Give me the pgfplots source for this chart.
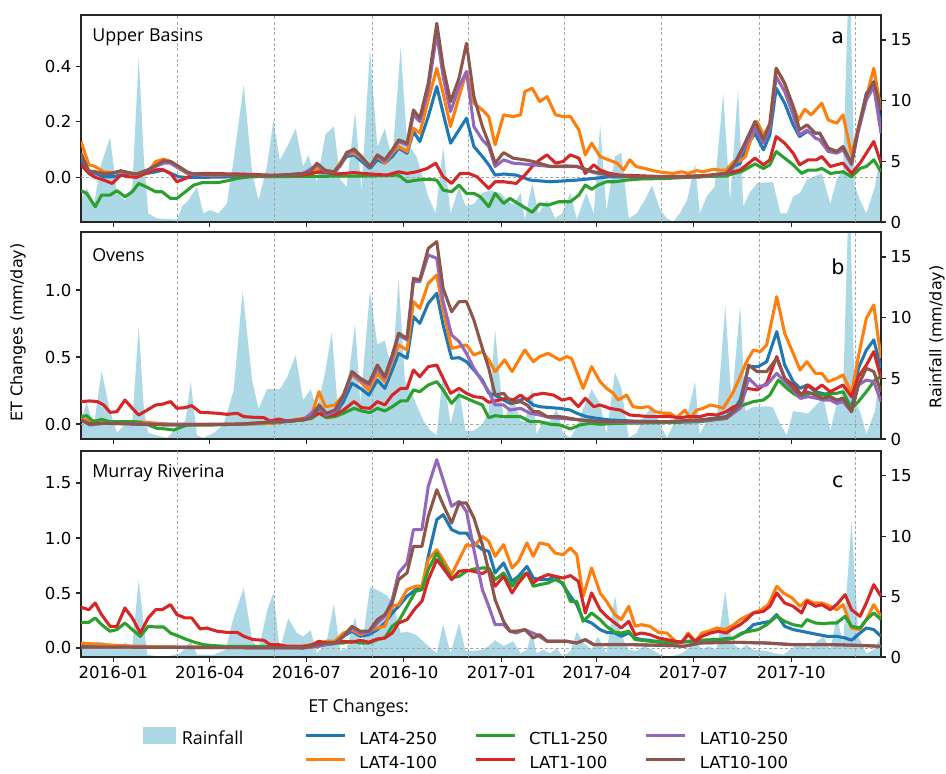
\documentclass[border=0pt]{standalone}
\usepackage{fontspec}
\setmainfont{DejaVu Sans}
\newfontfamily\opensans{Open Sans}
\usepackage{pgfplots}
\pgfplotsset{compat=1.18}

\definecolor{tabblue}{HTML}{1F77B4}
\definecolor{taborange}{HTML}{FF7F0E}
\definecolor{tabgreen}{HTML}{2CA02C}
\definecolor{tabred}{HTML}{D62728}
\definecolor{tabpurple}{HTML}{9467BD}
\definecolor{tabbrown}{HTML}{8C564B}
\definecolor{rain}{HTML}{ADD8E6}

\newcommand{\tickfont}{\fontsize{12.4}{14}\selectfont}
\newcommand{\titlefont}{\opensans\fontsize{13.4}{16}\selectfont}
\newcommand{\letterfont}{\fontsize{15.5}{18}\selectfont}

% x axis: days since 2016-01-01
\pgfplotsset{
  base/.style={scale only axis, width=600pt, xmin=-30.4, xmax=723.8, anchor=south west,
    tick align=outside, major tick length=3.75pt,
    every tick/.style={black!85, line width=0.8pt},
    tick label style={font=\tickfont},
    axis line style={black!85, line width=0.9pt},
    /pgf/number format/assume math mode=true},
  rainax/.style={base, hide x axis, axis y line*=right, ymin=0, ymax=17.06, ytick={0,5,10,15}},
  etax/.style={base, ytick pos=left, xtick pos=bottom,
    xtick={0,91,182,274,366,456,547,639}, xticklabels={},
    extra x ticks={60,152,244,335,425,517,609,700}, extra x tick labels={},
    extra x tick style={grid=major, major tick length=0pt},
    extra y ticks={0}, extra y tick labels={},
    extra y tick style={grid=major, major tick length=0pt},
    major grid style={black!35, line width=0.5pt, dash pattern=on 2.2pt off 1.8pt},
    yticklabel style={/pgf/number format/.cd, fixed, fixed zerofill, precision=1},
    every axis plot/.append style={line width=2.3pt, line join=round}},
}

\begin{document}
\begin{tikzpicture}
\path[use as bounding box] (0pt,0pt) rectangle (709.5pt,580.5pt);

%% ---------------- Upper Basins ----------------
\begin{axis}[rainax, at={(60.75pt,414pt)}, height=155.25pt]
\addplot[fill=rain, draw=none] coordinates {(-30.4,1.8) (-25,2.8) (-18.5,1.3) (-12,4.6) (-3,7.0) (3.5,2.4) (11,1.8) (18,2.9) (24,13.6) (29,5.1) (33,0.7) (41,0.3) (60,0.2) (65,1.3) (71,1.8) (79,2.9) (85,0.7) (91.5,1.0) (99,0.7) (107,1.5) (113.5,5.1) (123,11.3) (131,4.0) (137,1.8) (145,4.6) (151,8.4) (157,5.1) (164,6.2) (172,7.7) (179,4.6) (184,5.5) (192,3.3) (200,7.2) (208,7.9) (214,3.5) (220,2.9) (228,9.1) (234,2.6) (242,14.2) (249,6.2) (256,7.7) (263,5.1) (271,14.4) (277,6.5) (286,5.4) (297,2.1) (304,0.7) (311,6.2) (318,0.7) (326,2.9) (332,1.3) (340,1.5) (348,2.4) (355,2.6) (365,2.4) (371,1.8) (377,1.4) (384,2.4) (388,0.2) (395,3.2) (401,0.7) (409,1.8) (416.5,0.3) (423,0.7) (431,2.4) (437,0.2) (446,2.4) (453,0.7) (459,8.0) (465,0.9) (473,5.4) (479,5.7) (486,0.3) (493.5,0.7) (501,1.8) (508,3.0) (515.5,1.0) (522,0.3) (528,0.0) (534,0.7) (541,1.8) (548.5,4.8) (553,0.7) (559.5,2.1) (567,2.9) (575,10.6) (581.5,1.8) (589,10.9) (594,1.3) (600,2.4) (607,3.2) (622,3.3) (629,0.7) (635,0.7) (641,2.1) (647.5,2.4) (654,3.5) (668,4.0) (676,1.5) (682,3.5) (688,4.3) (694,22) (699,3.0) (704,1.8) (710,0.7) (718,2.9) (723.8,5.9)} \closedcycle;
\end{axis}
\begin{axis}[etax, at={(60.75pt,414pt)}, height=155.25pt, ymin=-0.162, ymax=0.584, ytick={0,0.2,0.4}]
\addplot[tabblue] coordinates {(-30.4,0.062) (-25,0.025) (-17,0.013) (-9,0.001) (-1,0.001) (7,0.007) (14.5,0.013) (22,0.007) (32,0.013) (40,0.019) (47.5,0.025) (54,0.013) (62,0.001) (69.5,-0.002) (117,0.001) (148,0.004) (179,0.007) (192,0.019) (208,0.013) (220,0.074) (227,0.080) (242,0.031) (249,0.062) (256,0.050) (263,0.074) (269,0.104) (277,0.086) (283,0.164) (289,0.128) (297,0.218) (305,0.326) (311,0.230) (318,0.122) (326,0.170) (333,0.212) (340,0.110) (348,0.074) (354,0.044) (360,0.007) (368,0.011) (380,0.007) (393,-0.011) (412,-0.017) (437,-0.011) (453,-0.005) (468,0.001) (522,0.001) (553,0.004) (578,0.007) (585,0.038) (591,0.050) (597,0.110) (605,0.158) (613,0.098) (619,0.152) (625,0.320) (633,0.266) (641,0.188) (647,0.146) (654,0.164) (662,0.158) (666,0.158) (674,0.104) (682,0.092) (688,0.104) (696,0.050) (702,0.164) (710,0.302) (717,0.332) (723.8,0.182)};
\addplot[taborange] coordinates {(-30.4,0.128) (-23,0.044) (-17,0.038) (-9,0.019) (-1,0.016) (7,0.019) (14.5,0.016) (22,0.007) (32,0.013) (40,0.056) (47.5,0.064) (54,0.056) (62,0.031) (69.5,0.013) (85,0.007) (117,0.005) (148,0.001) (179,0.013) (192,0.031) (208,0.019) (220,0.083) (227,0.086) (234,0.068) (242,0.038) (249,0.074) (256,0.050) (263,0.086) (269,0.110) (277,0.092) (283,0.176) (289,0.158) (297,0.278) (305,0.392) (311,0.302) (318,0.182) (326,0.290) (333,0.380) (340,0.266) (348,0.242) (354,0.218) (360,0.116) (368,0.224) (377,0.218) (384,0.224) (388,0.308) (395,0.320) (402,0.272) (409,0.290) (417,0.224) (424,0.218) (431,0.218) (439,0.170) (445,0.080) (451,0.122) (459,0.074) (467,0.062) (475,0.050) (481,0.025) (487,0.062) (493,0.038) (501,0.031) (509,0.023) (519,0.016) (528,0.013) (536,0.019) (542,0.013) (550,0.023) (556,0.019) (566,0.028) (572,0.025) (578,0.025) (585,0.056) (591,0.058) (596,0.074) (600,0.122) (607,0.200) (613,0.152) (619,0.188) (625,0.392) (632,0.344) (638,0.284) (646,0.206) (652,0.244) (658,0.224) (668,0.266) (674,0.206) (682,0.194) (688,0.224) (696,0.080) (702,0.170) (709,0.272) (717,0.392) (723.8,0.242)};
\addplot[tabgreen] coordinates {(-30.4,-0.049) (-25,-0.059) (-17,-0.107) (-11,-0.065) (-3,-0.065) (3.5,-0.049) (11,-0.071) (18,-0.053) (24,-0.023) (32,-0.037) (40,-0.053) (46,-0.053) (54,-0.077) (60,-0.077) (68,-0.053) (76,-0.029) (84,-0.020) (99,-0.020) (107,-0.014) (117,-0.005) (129,0.001) (242,0.004) (269,0.007) (277,-0.017) (286,-0.011) (296,-0.008) (305,-0.011) (311,-0.047) (319,-0.053) (326,-0.029) (333,-0.059) (340,-0.059) (346,-0.071) (354,-0.107) (360,-0.059) (368,-0.095) (374,-0.077) (384,-0.101) (395,-0.127) (402,-0.097) (410,-0.101) (420,-0.089) (431,-0.089) (439,-0.065) (445,-0.029) (451,-0.044) (457,-0.029) (465,-0.017) (473,-0.017) (484,-0.011) (497,-0.007) (522,-0.005) (553,0.001) (578,0.004) (585,0.013) (592,0.019) (605,0.047) (613,0.031) (619,0.044) (625,0.092) (633,0.068) (641,0.044) (649,0.013) (655,0.025) (663,0.025) (668,0.031) (676,0.013) (688,0.019) (696,0.001) (704,0.031) (710,0.038) (717,0.062) (723.8,0.019)};
\addplot[tabred] coordinates {(-30.4,0.044) (-23,0.013) (-17,-0.001) (-9,-0.011) (-1,-0.023) (7,0.007) (14.5,0.001) (22,-0.001) (30,0.013) (38,0.025) (46,0.028) (54,0.013) (60,-0.017) (68,-0.005) (76,0.011) (85,0.013) (117,0.011) (148,0.007) (179,0.007) (195,0.019) (211,0.011) (227,0.016) (242,0.011) (258,0.007) (269,0.019) (277,0.013) (286,0.019) (296,0.031) (304,0.050) (311,0.001) (319,-0.023) (327,0.013) (335,0.013) (343,0.001) (354,-0.041) (360,-0.017) (368,-0.017) (380,-0.023) (388,0.007) (395,0.038) (402,0.062) (409,0.080) (417,0.050) (424,0.056) (431,0.080) (439,0.068) (445,0.013) (453,0.044) (459,0.025) (468,0.013) (478,0.007) (522,0.001) (553,0.004) (578,0.013) (591,0.025) (605,0.068) (613,0.044) (619,0.062) (625,0.146) (633,0.122) (641,0.086) (647,0.044) (655,0.062) (663,0.062) (668,0.074) (676,0.038) (682,0.044) (688,0.050) (696,0.013) (704,0.050) (710,0.086) (717,0.128) (723.8,0.050)};
\addplot[tabpurple] coordinates {(-30.4,0.080) (-23,0.023) (-9,0.011) (7,0.019) (22,0.011) (32,0.023) (40,0.038) (47.5,0.050) (54,0.050) (62,0.031) (69.5,0.016) (76,0.008) (117,0.006) (148,0.004) (179,0.012) (192,0.044) (200,0.020) (208,0.018) (214,0.040) (220,0.083) (227,0.095) (234,0.071) (242,0.035) (249,0.076) (256,0.056) (263,0.092) (269,0.128) (277,0.116) (283,0.224) (289,0.200) (297,0.314) (305,0.518) (311,0.362) (318,0.236) (326,0.326) (333,0.380) (340,0.182) (348,0.134) (354,0.110) (360,0.038) (368,0.062) (377,0.050) (396,0.044) (412,0.038) (437,0.038) (453,0.016) (468,0.007) (490,0.001) (553,0.001) (578,0.011) (585,0.038) (594,0.098) (605,0.176) (613,0.122) (619,0.176) (625,0.362) (633,0.308) (641,0.224) (647,0.152) (654,0.170) (662,0.140) (666,0.134) (674,0.092) (682,0.086) (688,0.098) (696,0.044) (702,0.158) (710,0.278) (717,0.326) (723.8,0.158)};
\addplot[tabbrown] coordinates {(-30.4,0.086) (-23,0.019) (-17,0.019) (-9,0.013) (-1,0.013) (7,0.023) (14.5,0.016) (22,0.011) (32,0.025) (40,0.041) (47.5,0.059) (54,0.056) (62,0.038) (69.5,0.019) (76,0.011) (117,0.007) (148,0.004) (179,0.013) (186,0.019) (192,0.050) (200,0.023) (208,0.019) (214,0.044) (220,0.088) (227,0.101) (234,0.074) (242,0.038) (249,0.080) (256,0.062) (263,0.098) (269,0.134) (277,0.122) (283,0.242) (289,0.212) (297,0.338) (305,0.554) (311,0.398) (318,0.272) (326,0.356) (333,0.482) (340,0.290) (348,0.182) (354,0.122) (360,0.050) (368,0.088) (377,0.068) (388,0.062) (396,0.056) (412,0.038) (427,0.040) (437,0.038) (453,0.019) (468,0.007) (490,0.001) (553,0.001) (578,0.013) (585,0.044) (594,0.110) (605,0.200) (613,0.134) (619,0.194) (625,0.392) (633,0.338) (641,0.254) (647,0.170) (654,0.188) (662,0.158) (666,0.158) (674,0.104) (682,0.092) (688,0.110) (696,0.050) (702,0.170) (710,0.296) (717,0.344) (723.8,0.242)};
\node[anchor=west, inner sep=0pt, font=\titlefont] at (rel axis cs:0.0138,0.894) {Upper Basins};
\node[inner sep=0pt, font=\letterfont] at (rel axis cs:0.946,0.889) {a};
\end{axis}

%% ---------------- Ovens ----------------
\begin{axis}[rainax, at={(60.75pt,251.25pt)}, height=155.25pt]
\addplot[fill=rain, draw=none] coordinates {(-30.4,1.5) (-25,3.0) (-18.5,1.0) (-11,5.6) (-3,2.3) (3.5,0.5) (11,1.2) (18,1.5) (24,9.3) (29,2.3) (33,0.5) (41,0.3) (51,0.1) (60,1.0) (68,1.5) (73,4.7) (79,0.3) (85,0.1) (95,0.5) (104,1.2) (113.5,4.0) (122,12.2) (131,4.8) (137,2.5) (145,4.1) (157,4.1) (164,5.1) (172,6.9) (179,3.2) (186,4.1) (192,2.5) (200,5.6) (206,8.8) (212,2.3) (220,3.8) (228,9.5) (233,2.9) (242,12.2) (249,7.8) (256,8.1) (263,5.5) (269,13.2) (275,4.8) (283,3.4) (292.5,1.5) (299,0.7) (305,0.3) (311,5.6) (318,1.2) (326,4.2) (332,0.7) (340,0.7) (348,1.2) (354,2.3) (360,9.0) (368,1.5) (377,3.4) (384,1.5) (388,1.4) (395,4.2) (399,0.4) (405.5,1.5) (412,1.5) (418,2.5) (424,0.5) (431,0.1) (437,1.0) (443,2.5) (451,4.1) (459,2.9) (465,0.4) (473,5.5) (479,4.2) (486,0.1) (493.5,0.5) (500,1.8) (508,2.7) (515.5,1.2) (522,0.1) (528,1.2) (536,1.2) (542,2.3) (548.5,4.7) (553,0.4) (561,1.8) (569,1.8) (577,11.0) (583,2.9) (591,11.0) (596,2.3) (602,2.6) (616,2.7) (622,2.6) (629,1.2) (635,0.3) (641,2.3) (655,2.1) (669.5,3.4) (676,0.7) (682,2.9) (688,3.8) (694,22) (699,3.0) (704,2.3) (710,0.4) (718,2.3) (723.8,5.9)} \closedcycle;
\end{axis}
\begin{axis}[etax, at={(60.75pt,251.25pt)}, height=155.25pt, ymin=-0.112, ymax=1.433, ytick={0,0.5,1.0}]
\addplot[tabblue] coordinates {(-30.4,0.030) (-22,0.005) (-9,0.010) (22,0.0) (54,-0.007) (85,-0.007) (117,-0.002) (148,0.005) (179,0.030) (187,0.055) (194,0.117) (201,0.067) (209,0.072) (217,0.167) (225,0.304) (233,0.266) (241,0.216) (249,0.328) (256,0.266) (263,0.403) (269,0.527) (277,0.490) (283,0.801) (289,0.751) (297,0.901) (305,0.975) (311,0.739) (319,0.490) (326,0.495) (333,0.465) (340,0.403) (348,0.328) (354,0.229) (360,0.216) (368,0.179) (374,0.154) (384,0.179) (388,0.192) (396,0.142) (402,0.129) (412,0.122) (421,0.117) (431,0.104) (437,0.080) (446,0.055) (456,0.042) (468,0.030) (490,0.022) (522,0.017) (553,0.030) (578,0.055) (585,0.104) (591,0.179) (599,0.428) (608,0.428) (616,0.465) (625.5,0.689) (633,0.440) (641,0.316) (647.5,0.266) (654,0.291) (662,0.241) (668,0.229) (674,0.216) (682,0.167) (688,0.179) (696,0.104) (702.5,0.416) (710,0.552) (717,0.627) (723.8,0.416)};
\addplot[taborange] coordinates {(-30.4,0.042) (-25,0.030) (-9,0.017) (22,0.017) (54,-0.002) (85,-0.007) (117,-0.002) (148,0.005) (179,0.042) (187,0.067) (194,0.241) (200,0.129) (209,0.142) (217,0.216) (225,0.366) (233,0.316) (241,0.254) (249,0.378) (256,0.316) (263,0.465) (269,0.590) (277,0.552) (283,0.913) (289,0.863) (297,1.050) (305,1.112) (311,0.851) (319,0.565) (326,0.577) (333,0.590) (340,0.515) (348,0.540) (354,0.478) (360,0.391) (369,0.478) (376,0.391) (388,0.552) (396,0.465) (402,0.503) (410,0.527) (421,0.478) (427.5,0.503) (432,0.490) (443,0.266) (451,0.428) (459,0.316) (465,0.266) (471.5,0.229) (476,0.179) (484,0.216) (490,0.129) (497,0.122) (504.5,0.129) (511,0.092) (519,0.080) (525,0.080) (531,0.047) (539,0.104) (544,0.042) (550,0.104) (556,0.117) (563,0.142) (570.5,0.129) (575,0.117) (583,0.216) (589,0.316) (597,0.465) (603.5,0.552) (610,0.540) (616,0.590) (625.5,0.950) (633,0.677) (641,0.527) (647.5,0.403) (654,0.465) (662,0.378) (668,0.378) (674,0.316) (682,0.341) (688,0.366) (696,0.229) (702.5,0.503) (710,0.789) (717,0.888) (723.8,0.490)};
\addplot[tabgreen] coordinates {(-30.4,0.055) (-25,0.062) (-18.5,0.017) (-11,0.035) (-3,0.017) (5,0.017) (18,0.017) (25.5,0.012) (33,-0.007) (41,-0.032) (49,-0.037) (57,-0.045) (63,-0.027) (69.5,-0.007) (85,-0.007) (117,-0.002) (148,0.012) (179,0.030) (187,0.042) (194,0.080) (201,0.047) (209,0.055) (217,0.080) (227,0.117) (234,0.097) (242,0.085) (249,0.117) (256,0.097) (263,0.129) (271,0.172) (277,0.172) (283,0.254) (289,0.241) (297,0.291) (305,0.316) (311,0.254) (319,0.154) (326,0.216) (333,0.192) (340,0.167) (348,0.142) (354,0.047) (360,0.062) (368,0.055) (384,0.055) (393,0.017) (402,0.017) (412,-0.002) (421,-0.007) (431,-0.037) (440,-0.007) (449.5,0.005) (459,-0.002) (475,0.005) (522,0.010) (553,0.017) (578,0.042) (585,0.092) (594,0.142) (603.5,0.167) (613,0.179) (619,0.216) (627,0.328) (635,0.266) (641,0.229) (649,0.192) (655,0.229) (662,0.229) (668,0.216) (674,0.229) (682,0.229) (688,0.241) (696,0.117) (702.5,0.167) (710,0.241) (718,0.328) (723.8,0.353)};
\addplot[tabred] coordinates {(-30.4,0.167) (-22,0.172) (-15,0.167) (-9,0.142) (-3,0.087) (3.5,0.092) (11,0.179) (18,0.117) (24,0.067) (32,0.104) (40,0.142) (46,0.147) (54,0.167) (60,0.117) (68,0.122) (74,0.137) (82,0.087) (88,0.085) (98,0.080) (107,0.072) (117,0.080) (123,0.055) (132,0.050) (142,0.047) (148,0.022) (156,0.037) (164,0.022) (173,0.030) (179,0.037) (187,0.055) (194,0.080) (201,0.062) (209,0.067) (217,0.104) (227,0.167) (234,0.122) (242,0.117) (249,0.167) (256,0.142) (263,0.216) (271,0.266) (277,0.266) (283,0.403) (289,0.353) (297,0.428) (305,0.440) (311,0.341) (318,0.229) (326,0.266) (333,0.229) (340,0.204) (348,0.197) (354,0.162) (360,0.172) (368,0.187) (371,0.192) (377,0.179) (384,0.216) (390,0.179) (396,0.216) (405.5,0.229) (415,0.216) (423,0.179) (431,0.192) (438.5,0.129) (445,0.192) (453,0.129) (459,0.142) (468,0.117) (478,0.104) (487,0.067) (506,0.055) (525,0.055) (534,0.047) (542,0.055) (553,0.055) (561,0.072) (569,0.067) (578,0.092) (585,0.129) (591,0.142) (597,0.266) (607,0.254) (616,0.304) (625.5,0.503) (633,0.341) (641,0.291) (649,0.216) (655,0.291) (662,0.254) (668,0.291) (676,0.241) (682,0.266) (688,0.291) (696,0.204) (702.5,0.353) (710,0.440) (717,0.540) (723.8,0.341)};
\addplot[tabpurple] coordinates {(-30.4,0.030) (-22,-0.007) (-9,0.005) (54,-0.002) (117,-0.002) (179,0.030) (194,0.129) (201,0.067) (209,0.092) (217,0.204) (225,0.378) (233,0.328) (241,0.291) (249,0.416) (256,0.341) (263,0.490) (269,0.664) (277,0.627) (283,1.062) (289,1.062) (297,1.261) (305,1.237) (311,0.913) (319,0.664) (326,0.615) (333,0.527) (340,0.416) (348,0.316) (354,0.241) (360,0.142) (368,0.142) (374,0.104) (384,0.117) (393,0.080) (402,0.067) (412,0.047) (421,0.042) (440,0.030) (459,0.017) (490,0.012) (522,0.017) (553,0.022) (578,0.042) (591,0.117) (599,0.341) (607,0.279) (616,0.291) (625.5,0.378) (633,0.316) (641,0.254) (647.5,0.192) (655,0.204) (663,0.192) (669.5,0.179) (676,0.179) (682,0.154) (688,0.167) (696,0.092) (702.5,0.291) (710,0.328) (717,0.316) (723.8,0.167)};
\addplot[tabbrown] coordinates {(-30.4,0.030) (-22,-0.002) (-9,0.005) (54,-0.007) (117,-0.002) (179,0.030) (187,0.047) (194,0.142) (201,0.080) (209,0.104) (217,0.216) (225,0.391) (233,0.341) (241,0.304) (249,0.440) (256,0.353) (263,0.515) (269,0.677) (277,0.639) (283,1.087) (289,1.075) (297,1.311) (305,1.361) (311,1.012) (319,0.838) (326,0.913) (333,0.913) (340,0.776) (348,0.565) (354,0.416) (360,0.216) (368,0.229) (376,0.154) (384,0.167) (390,0.142) (396,0.092) (401,0.092) (409,0.055) (421,0.055) (431,0.042) (440,0.030) (453,0.022) (468,0.017) (522,0.017) (553,0.030) (578,0.047) (591,0.142) (599,0.440) (607,0.391) (616,0.391) (625.5,0.490) (633,0.341) (641,0.266) (647.5,0.216) (654,0.241) (662,0.216) (668,0.192) (676,0.204) (682,0.179) (688,0.192) (696,0.092) (702.5,0.291) (710,0.416) (717,0.391) (723.8,0.241)};
\node[anchor=west, inner sep=0pt, font=\titlefont] at (rel axis cs:0.0138,0.889) {Ovens};
\node[inner sep=0pt, font=\letterfont] at (rel axis cs:0.946,0.831) {b};
\end{axis}

%% ---------------- Murray Riverina ----------------
\begin{axis}[rainax, at={(60.75pt,87.75pt)}, height=154.5pt]
\addplot[fill=rain, draw=none] coordinates {(-30.4,0.9) (-22,1.0) (-15,1.3) (-9,1.2) (-1,1.0) (5,0.6) (11,1.2) (18,0.9) (24,6.4) (32,0.2) (41,0.05) (54,0.1) (63,0.3) (73,1.3) (79,0.2) (95,0.2) (106,0.6) (113.5,3.3) (123,5.7) (131,1.4) (137,0.6) (145,3.8) (151,5.3) (157,0.6) (165,3.2) (173,2.0) (179,1.7) (186,2.2) (192,0.3) (201,1.2) (208,4.4) (214,0.5) (220,0.7) (228,3.3) (234,0.6) (242,5.8) (250,5.5) (258,5.1) (264,4.4) (271,2.0) (277,2.1) (286,1.8) (297,0.9) (305,0.3) (311,2.7) (318,0.3) (326,2.8) (332,0.5) (340,0.5) (348,0.6) (354,0.9) (360,1.4) (368,0.9) (377,1.3) (384,0.3) (390,0.6) (395,2.1) (399,0.3) (405.5,0.6) (412,0.3) (418,0.7) (424,0.05) (431,0.5) (437,2.1) (443,1.2) (451,0.6) (457,1.7) (465,0.3) (473,5.1) (479,1.7) (486,0.6) (493.5,0.5) (500,0.9) (508,0.6) (515.5,0.2) (522,0.05) (528,0.1) (536,0.3) (542,0.7) (548.5,1.4) (555,0.6) (561,0.9) (569,0.6) (577,5.5) (583,1.2) (591,0.6) (597,1.0) (603.5,0.6) (616,0.5) (624,0.3) (632,0.2) (638,0.6) (647.5,1.2) (655,0.7) (662,1.2) (669.5,1.7) (676,0.6) (682,3.3) (688,1.2) (696,11.2) (702.5,1.7) (710,0.3) (717,0.6) (723.8,1.7)} \closedcycle;
\end{axis}
\begin{axis}[etax, at={(60.75pt,87.75pt)}, height=154.5pt, ymin=-0.082, ymax=1.791, ytick={0,0.5,1.0,1.5},
  xticklabels={2016-01,2016-04,2016-07,2016-10,2017-01,2017-04,2017-07,2017-10}]
\addplot[tabblue] coordinates {(-30.4,0.021) (-9,0.015) (22,0.015) (54,0.009) (85,0.006) (179,0.009) (194,0.030) (201,0.052) (209,0.052) (217,0.106) (225,0.152) (233,0.106) (241,0.121) (249,0.167) (256,0.227) (263,0.318) (269,0.379) (277,0.470) (285,0.530) (291,0.530) (297,0.833) (305,1.167) (311,1.212) (319,1.076) (326,1.045) (333,1.045) (340,0.955) (348,0.894) (354,0.879) (360,0.682) (368,0.773) (376,0.606) (382,0.652) (390,0.742) (396,0.636) (402,0.621) (410,0.621) (416.5,0.652) (424,0.576) (431,0.470) (437,0.394) (443,0.258) (451,0.227) (459,0.167) (465,0.142) (473,0.136) (479,0.106) (486,0.136) (492,0.091) (498,0.076) (506,0.070) (514,0.052) (530,0.045) (545,0.061) (569,0.076) (585,0.091) (597,0.152) (603.5,0.212) (611,0.227) (619,0.242) (625.5,0.303) (633,0.197) (641,0.167) (649,0.152) (657,0.136) (665,0.121) (673,0.106) (682,0.106) (690,0.091) (696,0.070) (704,0.136) (710,0.182) (717,0.167) (723.8,0.106)};
\addplot[taborange] coordinates {(-30.4,0.045) (-9,0.030) (22,0.015) (54,0.009) (85,0.006) (179,0.015) (194,0.045) (201,0.061) (209,0.061) (217,0.136) (225,0.167) (233,0.121) (241,0.152) (249,0.182) (256,0.197) (263,0.379) (269,0.394) (277,0.530) (285,0.561) (291,0.561) (297,0.803) (305,0.894) (311,0.803) (319,0.667) (326,0.803) (333,0.939) (340,0.924) (348,1.015) (354,0.970) (360,0.833) (368,0.939) (376,0.727) (382,0.788) (390,0.955) (396,0.833) (402,0.955) (410,0.939) (416.5,0.864) (424,0.848) (431,0.909) (437,0.848) (443,0.470) (451,0.727) (459,0.500) (465,0.424) (473,0.303) (479,0.258) (486,0.379) (492,0.197) (498,0.212) (506,0.197) (514,0.142) (522,0.136) (530,0.061) (536,0.052) (542,0.136) (548.5,0.061) (555,0.136) (561,0.152) (569,0.182) (577,0.167) (585,0.212) (591,0.258) (597,0.288) (603.5,0.318) (611,0.348) (617.6,0.394) (625.5,0.561) (632,0.500) (640,0.455) (647.5,0.379) (654,0.439) (660,0.409) (668,0.409) (676,0.379) (682,0.348) (688,0.394) (696,0.182) (704,0.167) (710,0.258) (717,0.394) (723.8,0.288)};
\addplot[tabgreen] coordinates {(-30.4,0.233) (-23,0.233) (-17,0.273) (-11,0.212) (-3,0.152) (3.5,0.167) (11,0.227) (18,0.167) (25.5,0.106) (33,0.197) (40,0.191) (47.5,0.191) (54,0.136) (62,0.106) (69.5,0.076) (77,0.052) (85,0.030) (95,0.021) (107,0.015) (179,0.015) (194,0.039) (201,0.039) (209,0.045) (217,0.045) (225,0.061) (233,0.045) (241,0.045) (249,0.076) (256,0.091) (263,0.197) (269,0.242) (277,0.379) (285,0.515) (291,0.530) (297,0.712) (305,0.864) (311,0.758) (319,0.636) (326,0.652) (333,0.697) (340,0.718) (348,0.727) (354,0.727) (360,0.621) (368,0.682) (376,0.561) (382,0.636) (390,0.682) (396,0.561) (402,0.576) (410,0.591) (416.5,0.621) (424,0.591) (431,0.424) (437,0.424) (443,0.242) (451,0.318) (459,0.258) (465,0.197) (473,0.142) (479,0.136) (486,0.152) (492,0.076) (498,0.070) (506,0.061) (514,0.061) (522,0.052) (530,0.045) (537.5,0.061) (545,0.061) (553,0.070) (566,0.076) (578,0.076) (585,0.091) (592.5,0.136) (600,0.152) (608,0.167) (616,0.212) (625.5,0.288) (633,0.242) (641,0.212) (649,0.197) (654,0.258) (662,0.227) (669.5,0.221) (676,0.227) (682,0.227) (690,0.288) (696,0.197) (704,0.182) (710,0.258) (717,0.318) (723.8,0.258)};
\addplot[tabred] coordinates {(-30.4,0.370) (-23,0.348) (-17,0.409) (-11,0.303) (-3,0.197) (3.5,0.197) (11,0.364) (18,0.273) (25.5,0.136) (33,0.273) (40,0.348) (46,0.348) (54,0.394) (60,0.303) (68,0.273) (74,0.273) (82,0.173) (88,0.182) (98,0.152) (107,0.142) (117,0.142) (123,0.106) (132,0.076) (142,0.070) (148,0.030) (156,0.030) (164,0.015) (179,0.015) (186,0.021) (194,0.061) (201,0.045) (209,0.045) (217,0.061) (225,0.052) (233,0.070) (241,0.052) (249,0.082) (256,0.091) (263,0.136) (269,0.227) (277,0.258) (285,0.364) (291,0.424) (297,0.621) (305,0.803) (311,0.727) (319,0.621) (326,0.697) (333,0.706) (340,0.697) (348,0.676) (354,0.712) (360,0.561) (368,0.652) (376,0.500) (382,0.591) (390,0.682) (396,0.591) (402,0.636) (410,0.667) (416.5,0.652) (424,0.636) (431,0.658) (438.5,0.606) (445,0.318) (451,0.500) (459,0.348) (465,0.288) (473,0.227) (479,0.182) (486,0.242) (492,0.121) (498,0.136) (506,0.121) (514,0.091) (522,0.076) (530,0.061) (536,0.052) (542,0.121) (548.5,0.061) (555,0.106) (563,0.136) (570.5,0.152) (578,0.136) (585,0.182) (591,0.212) (597,0.258) (603.5,0.318) (613,0.333) (619,0.379) (625.5,0.500) (633,0.409) (641,0.379) (649,0.318) (654,0.424) (662,0.379) (668,0.394) (676,0.348) (682,0.394) (690,0.485) (696,0.348) (704,0.288) (710,0.409) (717,0.576) (723.8,0.470)};
\addplot[tabpurple] coordinates {(-30.4,0.009) (179,0.0) (194,0.015) (201,0.030) (209,0.039) (217,0.106) (225,0.182) (233,0.136) (241,0.136) (249,0.227) (256,0.288) (263,0.439) (269,0.682) (277,0.773) (283,1.076) (291,1.076) (297,1.470) (305,1.712) (311,1.530) (319,1.288) (326,1.333) (333,1.242) (340,0.894) (348,0.530) (354,0.379) (360,0.212) (368,0.212) (374,0.152) (380,0.136) (388,0.167) (399,0.121) (409,0.061) (427.5,0.061) (437,0.045) (445,0.076) (453,0.030) (465,0.030) (490,0.030) (528,0.021) (537.5,0.015) (553,0.045) (585,0.052) (616,0.045) (641,0.030) (679,0.030) (710,0.021) (723.8,0.015)};
\addplot[tabbrown] coordinates {(-30.4,0.009) (179,0.0) (194,0.030) (201,0.045) (209,0.045) (217,0.106) (225,0.197) (233,0.152) (241,0.152) (249,0.258) (256,0.303) (263,0.409) (269,0.621) (277,0.682) (283,0.924) (291,0.924) (297,1.197) (305,1.439) (311,1.303) (319,1.136) (326,1.318) (333,1.318) (340,1.182) (348,0.939) (354,0.697) (360,0.439) (368,0.242) (374,0.152) (380,0.152) (388,0.167) (396,0.091) (402,0.121) (409,0.061) (427.5,0.061) (437,0.045) (445,0.076) (453,0.030) (465,0.030) (490,0.030) (528,0.021) (537.5,0.015) (553,0.045) (585,0.052) (616,0.045) (641,0.030) (679,0.030) (710,0.021) (723.8,0.015)};
\node[anchor=west, inner sep=0pt, font=\titlefont] at (rel axis cs:0.0138,0.893) {Murray Riverina};
\node[inner sep=0pt, font=\letterfont] at (rel axis cs:0.946,0.850) {c};
\end{axis}

%% ---------------- legends ----------------
\begin{axis}[at={(0pt,0pt)}, anchor=south west, scale only axis, width=709.5pt, height=580.5pt,
  xmin=0, xmax=946, ymin=0, ymax=774, hide axis,
  legend image code/.code={\fill[#1] (0pt,-3.5pt) rectangle (24pt,8.5pt);},
  legend style={at={(0.15116,0.0478)}, anchor=west, draw=none, fill=none, inner sep=0pt,
    column sep=4.5pt, font=\titlefont, nodes={inner sep=0pt}}]
\addlegendimage{rain}
\addlegendentry{Rainfall}
\end{axis}
\begin{axis}[at={(0pt,0pt)}, anchor=south west, scale only axis, width=709.5pt, height=580.5pt,
  xmin=0, xmax=946, ymin=0, ymax=774, hide axis, legend columns=3,
  legend image code/.code={\draw[#1, line width=2.25pt] (0pt,3.5pt) -- (29.25pt,3.5pt);},
  legend style={at={(0.32135,0.02842)}, anchor=west, draw=none, fill=none, inner sep=0pt,
    row sep=7pt, column sep=9.75pt, font=\tickfont,
    nodes={inner sep=0pt, text height=9pt, text depth=2pt},
    /tikz/every even column/.append style={column sep=27.75pt}}]
\addlegendimage{tabblue}\addlegendentry{LAT4-250}
\addlegendimage{tabgreen}\addlegendentry{CTL1-250}
\addlegendimage{tabpurple}\addlegendentry{LAT10-250}
\addlegendimage{taborange}\addlegendentry{LAT4-100}
\addlegendimage{tabred}\addlegendentry{LAT1-100}
\addlegendimage{tabbrown}\addlegendentry{LAT10-100}
\end{axis}

\node[anchor=west, inner sep=0pt, font=\titlefont] at (231pt,49.5pt) {ET Changes:};
\node[rotate=90, inner sep=0pt, font=\fontsize{12}{14}\selectfont] at (13.5pt,331.1pt) {ET Changes (mm/day)};
\node[rotate=90, inner sep=0pt, font=\fontsize{12}{14}\selectfont] at (702.75pt,327.75pt) {Rainfall (mm/day)};
\end{tikzpicture}
\end{document}
